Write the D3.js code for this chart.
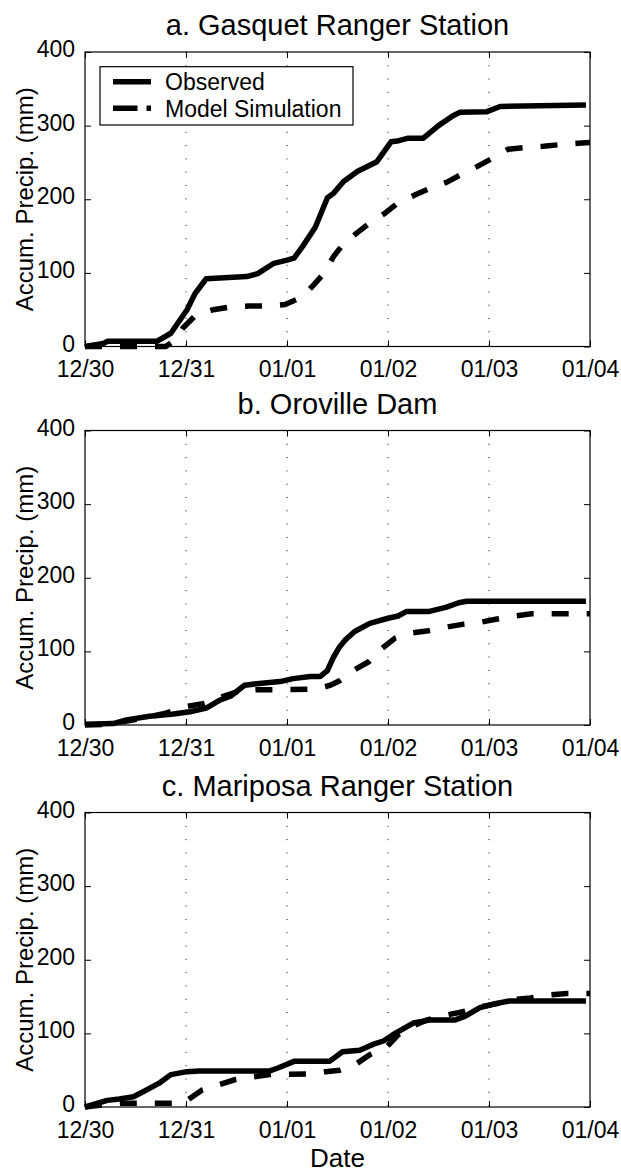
<!DOCTYPE html>
<html><head><meta charset="utf-8">
<script src="https://cdn.jsdelivr.net/npm/d3@7"></script>
<style>
body{margin:0;background:#fff}
svg{display:block}
text{font-family:"Liberation Sans",Arial,Helvetica,sans-serif;fill:#000}
</style>
</head><body>
<svg id="chart" width="621" height="1173"></svg>
<script>
// ---- data ----
const xTickValues = [0, 1, 2, 3, 4, 5];
const xTickLabels = ["12/30", "12/31", "01/01", "01/02", "01/03", "01/04"];
const yTickValues = [0, 100, 200, 300, 400];
const stationTitles = ["a. Gasquet Ranger Station", "b. Oroville Dam", "c. Mariposa Ranger Station"];
const seriesNames = ["Observed", "Model Simulation"];
const yLabel = "Accum. Precip. (mm)";
const xLabel = "Date";

// days since 12/30 00Z, accumulated precipitation (mm)
const gasquetObsDay = [0, 0.18, 0.22, 0.71, 0.85, 1.01, 1.09, 1.2, 1.6, 1.71, 1.87, 1.99, 2.07, 2.16, 2.28, 2.4, 2.46, 2.56, 2.7, 2.89, 3.03, 3.09, 3.2, 3.35, 3.5, 3.64, 3.71, 3.98, 4.11, 4.96];
const gasquetObs    = [0, 4, 7, 7, 18, 50, 72, 92, 95, 99, 113, 117, 120, 137, 162, 202, 208, 224, 238, 251, 278, 279, 283, 283, 300, 313, 318, 319, 326, 328];
const gasquetModDay = [0, 0.8, 0.9, 0.97, 1.1, 1.27, 1.45, 1.63, 1.8, 1.98, 2.15, 2.26, 2.37, 2.46, 2.56, 2.69, 2.82, 2.97, 3.1, 3.27, 3.42, 3.58, 3.73, 3.89, 4.04, 4.19, 4.34, 4.54, 4.69, 4.88, 5.0];
const gasquetMod    = [0, 0, 10, 25, 43, 50, 54, 55, 55, 57, 67, 83, 100, 122, 140, 154, 168, 181, 195, 206, 215, 223, 234, 245, 256, 268, 270, 272, 274, 276, 277];

const orovilleObsDay = [0, 0.28, 0.41, 0.64, 0.875, 1.04, 1.2, 1.34, 1.44, 1.58, 1.7, 1.93, 2.06, 2.23, 2.33, 2.4, 2.46, 2.52, 2.58, 2.67, 2.82, 3.0, 3.1, 3.18, 3.4, 3.58, 3.7, 3.78, 4.96];
const orovilleObs    = [1, 2, 7, 12, 15, 18, 23, 34, 39, 54, 56, 59, 63, 66, 66, 74, 92, 106, 116, 127, 138, 145, 148, 154, 154, 160, 166, 168, 168];
const orovilleModDay = [0, 0.2, 0.4, 0.6, 0.8, 1.0, 1.17, 1.37, 1.55, 1.7, 2.0, 2.3, 2.43, 2.52, 2.67, 2.81, 2.94, 3.07, 3.23, 3.4, 3.58, 3.75, 3.93, 4.08, 4.26, 4.42, 4.77, 5.0];
const orovilleMod    = [0, 1, 5, 10, 16, 25, 29, 39, 47, 48, 48, 49, 54, 60, 75, 86, 104, 118, 125, 128, 133, 137, 140, 144, 148, 151, 151, 151];

const mariposaObsDay = [0, 0.22, 0.34, 0.48, 0.58, 0.73, 0.85, 1.01, 1.13, 1.83, 1.91, 2.07, 2.42, 2.55, 2.72, 2.85, 2.96, 3.07, 3.25, 3.41, 3.66, 3.76, 3.91, 4.05, 4.2, 4.96];
const mariposaObs    = [0, 9, 11, 14, 21, 32, 44, 48, 49, 49, 53, 62, 62, 75, 77, 85, 90, 100, 114, 118, 118, 123, 135, 140, 144, 144];
const mariposaModDay = [0, 0.25, 0.35, 0.95, 1.0, 1.16, 1.32, 1.48, 1.67, 1.83, 2.2, 2.38, 2.52, 2.69, 2.82, 2.99, 3.1, 3.23, 3.38, 3.58, 3.73, 3.92, 4.07, 4.24, 4.41, 4.59, 4.77, 5.0];
const mariposaMod    = [0, 4, 5, 5, 8, 23, 30, 37, 41, 44, 45, 48, 50, 59, 71, 82, 98, 109, 118, 125, 129, 136, 140, 146, 148, 152, 154, 154];

// ---- layout ----
const panels = [
  {title: stationTitles[0], obsDay: gasquetObsDay, obs: gasquetObs, modDay: gasquetModDay, mod: gasquetMod, top: 52, legend: true, xlab: false},
  {title: stationTitles[1], obsDay: orovilleObsDay, obs: orovilleObs, modDay: orovilleModDay, mod: orovilleMod, top: 430.5, legend: false, xlab: false},
  {title: stationTitles[2], obsDay: mariposaObsDay, obs: mariposaObs, modDay: mariposaModDay, mod: mariposaMod, top: 812.5, legend: false, xlab: true}
];
const left = 85, right = 590, ph = 294.5;
const tickFont = 23, lineW = 5.5, dash = "17,18";

const svg = d3.select("#chart");
const x = d3.scaleLinear().domain([0, 5]).range([left, right]);

panels.forEach(p => {
  const g = svg.append("g").attr("transform", `translate(0,${p.top})`);
  const y = d3.scaleLinear().domain([0, 400]).range([ph, 0]);

  // grid (dotted verticals)
  g.append("g").selectAll("line").data(xTickValues.slice(1, -1)).join("line")
    .attr("x1", d => x(d)).attr("x2", d => x(d)).attr("y1", 0).attr("y2", ph)
    .attr("stroke", "#000").attr("stroke-width", 1).attr("stroke-dasharray", "1,12.3");

  // axes
  const fmtX = (d, i) => xTickLabels[i];
  const ax = g.append("g").attr("transform", `translate(0,${ph})`)
    .call(d3.axisBottom(x).tickValues(xTickValues).tickFormat(fmtX).tickSizeInner(-6).tickSizeOuter(0).tickPadding(14.5));
  const axT = g.append("g")
    .call(d3.axisTop(x).tickValues(xTickValues).tickFormat("").tickSizeInner(-6).tickSizeOuter(0));
  const ay = g.append("g").attr("transform", `translate(${left},0)`)
    .call(d3.axisLeft(y).tickValues(yTickValues).tickSizeInner(-6).tickSizeOuter(0).tickPadding(10));
  const ayR = g.append("g").attr("transform", `translate(${right},0)`)
    .call(d3.axisRight(y).tickValues(yTickValues).tickFormat("").tickSizeInner(-6).tickSizeOuter(0));
  [ax, axT, ay, ayR].forEach(a => {
    a.select(".domain").remove();
    a.selectAll("line").attr("stroke", "#000").attr("stroke-width", 1);
    a.selectAll("text").attr("font-size", tickFont).attr("font-family", '"Liberation Sans",Arial,sans-serif').attr("fill", "#000");
  });
  ay.selectAll("text").attr("dy", "0.2em");

  // frame
  g.append("rect").attr("x", left).attr("y", 0).attr("width", right - left).attr("height", ph)
    .attr("fill", "none").attr("stroke", "#000").attr("stroke-width", 1.2);

  // lines
  const line = d3.line().x(d => x(d[0])).y(d => y(d[1]));
  g.append("path").datum(d3.zip(p.obsDay, p.obs)).attr("d", line)
    .attr("fill", "none").attr("stroke", "#000").attr("stroke-width", lineW)
    .attr("stroke-linejoin", "round").attr("stroke-linecap", "butt");
  g.append("path").datum(d3.zip(p.modDay, p.mod)).attr("d", line)
    .attr("fill", "none").attr("stroke", "#000").attr("stroke-width", lineW)
    .attr("stroke-dasharray", dash).attr("stroke-linejoin", "miter").attr("stroke-linecap", "butt");

  // title
  g.append("text").attr("x", (left + right) / 2).attr("y", -17).attr("text-anchor", "middle")
    .attr("font-size", 29).text(p.title);

  // y label
  g.append("text").attr("transform", `translate(33,${ph / 2}) rotate(-90)`).attr("text-anchor", "middle")
    .attr("font-size", 24).text(yLabel);

  if (p.xlab) {
    g.append("text").attr("x", (left + right) / 2).attr("y", ph + 60).attr("text-anchor", "middle")
      .attr("font-size", 26).text(xLabel);
  }

  if (p.legend) {
    const lg = g.append("g");
    lg.append("rect").attr("x", 100).attr("y", 14.7).attr("width", 253).attr("height", 58.3)
      .attr("fill", "#fff").attr("stroke", "#000").attr("stroke-width", 1.2);
    const rows = [29.7, 56.3];
    seriesNames.forEach((name, i) => {
      lg.append("line").attr("x1", 113).attr("x2", 151).attr("y1", rows[i]).attr("y2", rows[i])
        .attr("stroke", "#000").attr("stroke-width", lineW)
        .attr("stroke-dasharray", i === 1 ? "24.5,9" : null);
      lg.append("text").attr("x", 165).attr("y", rows[i]).attr("dy", "0.36em")
        .attr("font-size", 23).text(name);
    });
  }
});
</script>
</body></html>
